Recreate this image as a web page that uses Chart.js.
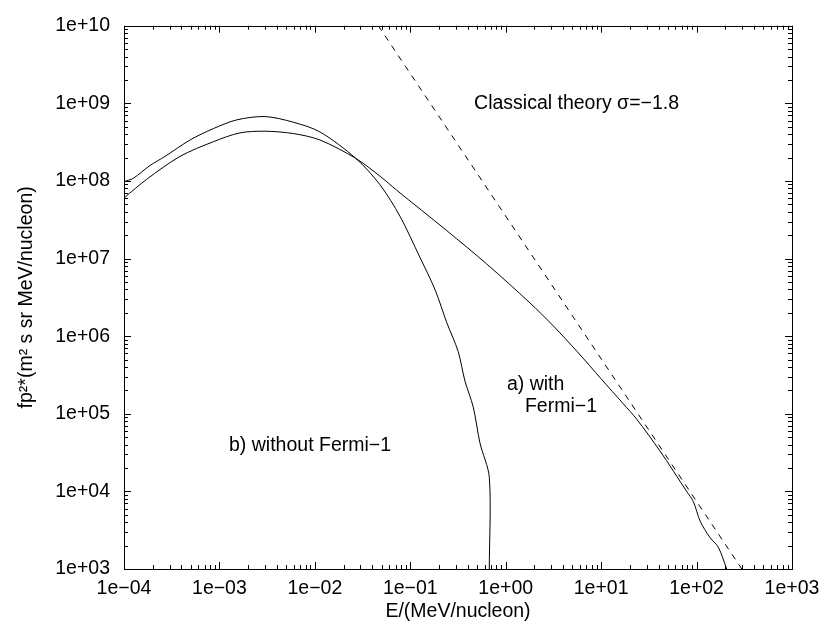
<!DOCTYPE html>
<html>
<head>
<meta charset="utf-8">
<script src="https://cdn.jsdelivr.net/npm/chart.js@4.4.0/dist/chart.umd.min.js"></script>
<style>
    html, body { margin: 0; padding: 0; background: #fff; }
    canvas { display: block; }
</style>
</head>
<body>
<canvas id="graph_spectrum" width="830" height="624"></canvas>
<script>
    /*******************************************************************************
     *
     * data
     *
     *******************************************************************************/
    // a) with Fermi-1
    var withFermiE = [1.0e-4, 1.73e-4, 3.86e-4, 8.63e-4, 1.64e-3, 3.01e-3, 5.94e-3, 1.13e-2, 2.69e-2,
        4.82e-2, 7.21e-2, 0.241, 0.632, 1.79, 3.16, 5.62, 10, 17.1, 23.6, 41.4, 78.7, 92.5, 109, 138, 169, 207];
    var withFermiF = [6.03e7, 1.05e8, 2.07e8, 3.20e8, 4.16e8, 4.37e8, 4.08e8, 3.37e8, 1.95e8,
        1.15e8, 7.59e7, 2.29e7, 8.51e6, 2.69e6, 1.35e6, 6.31e5, 2.82e5, 1.34e5, 8.51e4, 3.31e4, 1.0e4, 7.40e3, 4.14e3, 2.55e3, 1.91e3, 1.0e3];

    // b) without Fermi-1
    var withoutFermiE = [1.0e-4, 1.25e-4, 1.87e-4, 2.69e-4, 4.92e-4, 8.63e-4, 1.52e-3, 3.01e-3, 5.94e-3, 1.13e-2,
        2.69e-2, 4.82e-2, 7.80e-2, 0.126, 0.182, 0.241, 0.318, 0.374, 0.457, 0.537, 0.673, 0.673];
    var withoutFermiF = [9.8e7, 1.08e8, 1.58e8, 2.07e8, 3.37e8, 4.72e8, 6.12e8, 6.75e8, 5.71e8, 4.28e8,
        1.95e8, 8.91e7, 3.50e7, 1.04e7, 3.95e6, 1.50e6, 6.30e5, 2.64e5, 1.22e5, 4.21e4, 1.52e4, 1.0e3];

    // classical theory, sigma = -1.8
    var classicalE = [0.0462, 298];
    var classicalF = [1e10, 1e3];

    var xTicks = [1e-4, 1e-3, 1e-2, 1e-1, 1e0, 1e1, 1e2, 1e3];
    var xTickLabels = ['1e\u221204', '1e\u221203', '1e\u221202', '1e\u221201', '1e+00', '1e+01', '1e+02', '1e+03'];
    var yTicks = [1e3, 1e4, 1e5, 1e6, 1e7, 1e8, 1e9, 1e10];
    var yTickLabels = ['1e+03', '1e+04', '1e+05', '1e+06', '1e+07', '1e+08', '1e+09', '1e+10'];

    var xTitle = 'E/(MeV/nucleon)';
    var yTitle = 'fp\u00b2*(m\u00b2 s sr MeV/nucleon)';

    var notes = [
        { text: 'Classical theory \u03c3=\u22121.8', x: 0.466, y: 9.8e8 },
        { text: 'b) without Fermi\u22121', x: 1.26e-3, y: 3.86e4 },
        { text: 'a) with', x: 1.03, y: 2.39e5 },
        { text: 'Fermi\u22121', x: 1.59, y: 1.23e5 }
    ];

    /*******************************************************************************
     *
     * functions
     *
     *******************************************************************************/
    var FONT = '"Liberation Sans", Arial, Helvetica, sans-serif';
    var FONT_SIZE = 19.5;

    function toPoints(xs, ys) {
        var pts = [];
        for (var i = 0; i < xs.length; i++) {
            pts.push({ x: xs[i], y: ys[i] });
        }
        return pts;
    }

    function isSame(a, b) {
        return Math.abs(a / b - 1) < 1e-9;
    }

    function labelFor(value, ticks, labels) {
        for (var i = 0; i < ticks.length; i++) {
            if (isSame(ticks[i], value)) {
                return labels[i];
            }
        }
        return '';
    }

    // decade ticks plus the 2..9 minor ones in between
    function buildLogTicks(scale, decades) {
        var list = [];
        for (var i = 0; i < decades.length; i++) {
            list.push({ value: decades[i], major: true });
            if (i < decades.length - 1) {
                for (var k = 2; k <= 9; k++) {
                    list.push({ value: decades[i] * k, major: false });
                }
            }
        }
        scale.ticks = list;
    }

    var frameAndTicks = {
        id: 'frameAndTicks',
        afterDraw: function (chart) {
            var ctx = chart.ctx;
            var area = chart.chartArea;
            var xs = chart.scales.x;
            var ys = chart.scales.y;
            ctx.save();
            ctx.strokeStyle = '#000';
            ctx.lineWidth = 1;
            ctx.beginPath();
            xs.ticks.forEach(function (t) {
                var px = Math.round(xs.getPixelForValue(t.value)) + 0.5;
                var len = t.major ? 7 : 4;
                ctx.moveTo(px, area.bottom);
                ctx.lineTo(px, area.bottom - len);
                ctx.moveTo(px, area.top);
                ctx.lineTo(px, area.top + len);
            });
            ys.ticks.forEach(function (t) {
                var py = Math.round(ys.getPixelForValue(t.value)) + 0.5;
                var len = t.major ? 7 : 4;
                ctx.moveTo(area.left, py);
                ctx.lineTo(area.left + len, py);
                ctx.moveTo(area.right, py);
                ctx.lineTo(area.right - len, py);
            });
            ctx.stroke();
            ctx.strokeRect(Math.round(area.left) + 0.5, Math.round(area.top) + 0.5,
                Math.round(area.right - area.left), Math.round(area.bottom - area.top));

            ctx.fillStyle = '#000';
            ctx.font = FONT_SIZE + 'px ' + FONT;
            ctx.textAlign = 'left';
            ctx.textBaseline = 'middle';
            notes.forEach(function (n) {
                ctx.fillText(n.text, xs.getPixelForValue(n.x), ys.getPixelForValue(n.y));
            });
            ctx.restore();
        }
    };

    /*******************************************************************************
     *
     * chart
     *
     *******************************************************************************/
    var ctx = document.getElementById('graph_spectrum').getContext('2d');
    var lineStyle = { borderColor: '#000', borderWidth: 1, pointRadius: 0, fill: false, showLine: true };

    var chart = new Chart(ctx, {
        type: 'scatter',
        data: {
            datasets: [
                Object.assign({ label: 'a) with Fermi-1', data: toPoints(withFermiE, withFermiF), tension: 0.3 }, lineStyle),
                Object.assign({ label: 'b) without Fermi-1', data: toPoints(withoutFermiE, withoutFermiF), tension: 0.3 }, lineStyle),
                Object.assign({ label: 'Classical theory', data: toPoints(classicalE, classicalF), borderDash: [6, 6], tension: 0 }, lineStyle)
            ]
        },
        options: {
            responsive: false,
            animation: false,
            layout: { padding: { left: 0, right: 38, top: 13, bottom: 0 } },
            plugins: {
                legend: { display: false },
                tooltip: { enabled: false }
            },
            scales: {
                x: {
                    type: 'logarithmic',
                    min: 1e-4,
                    max: 1e3,
                    grid: { display: false, drawTicks: false },
                    border: { display: false },
                    afterBuildTicks: function (scale) { buildLogTicks(scale, xTicks); },
                    afterFit: function (scale) { scale.height = 55; },
                    ticks: {
                        autoSkip: false,
                        maxRotation: 0,
                        padding: 8,
                        color: '#000',
                        font: { family: FONT, size: FONT_SIZE },
                        callback: function (value) { return labelFor(value, xTicks, xTickLabels); }
                    },
                    title: {
                        display: true,
                        text: xTitle,
                        color: '#000',
                        font: { family: FONT, size: FONT_SIZE },
                        padding: { top: 0, bottom: 1 }
                    }
                },
                y: {
                    type: 'logarithmic',
                    min: 1e3,
                    max: 1e10,
                    grid: { display: false, drawTicks: false },
                    border: { display: false },
                    afterBuildTicks: function (scale) { buildLogTicks(scale, yTicks); },
                    afterFit: function (scale) { scale.width = 124; },
                    ticks: {
                        autoSkip: false,
                        padding: 14,
                        color: '#000',
                        font: { family: FONT, size: FONT_SIZE },
                        callback: function (value) { return labelFor(value, yTicks, yTickLabels); }
                    },
                    title: {
                        display: true,
                        text: yTitle,
                        color: '#000',
                        font: { family: FONT, size: FONT_SIZE },
                        padding: { top: 15, bottom: 0 }
                    }
                }
            }
        },
        plugins: [frameAndTicks]
    });
</script>
</body>
</html>
